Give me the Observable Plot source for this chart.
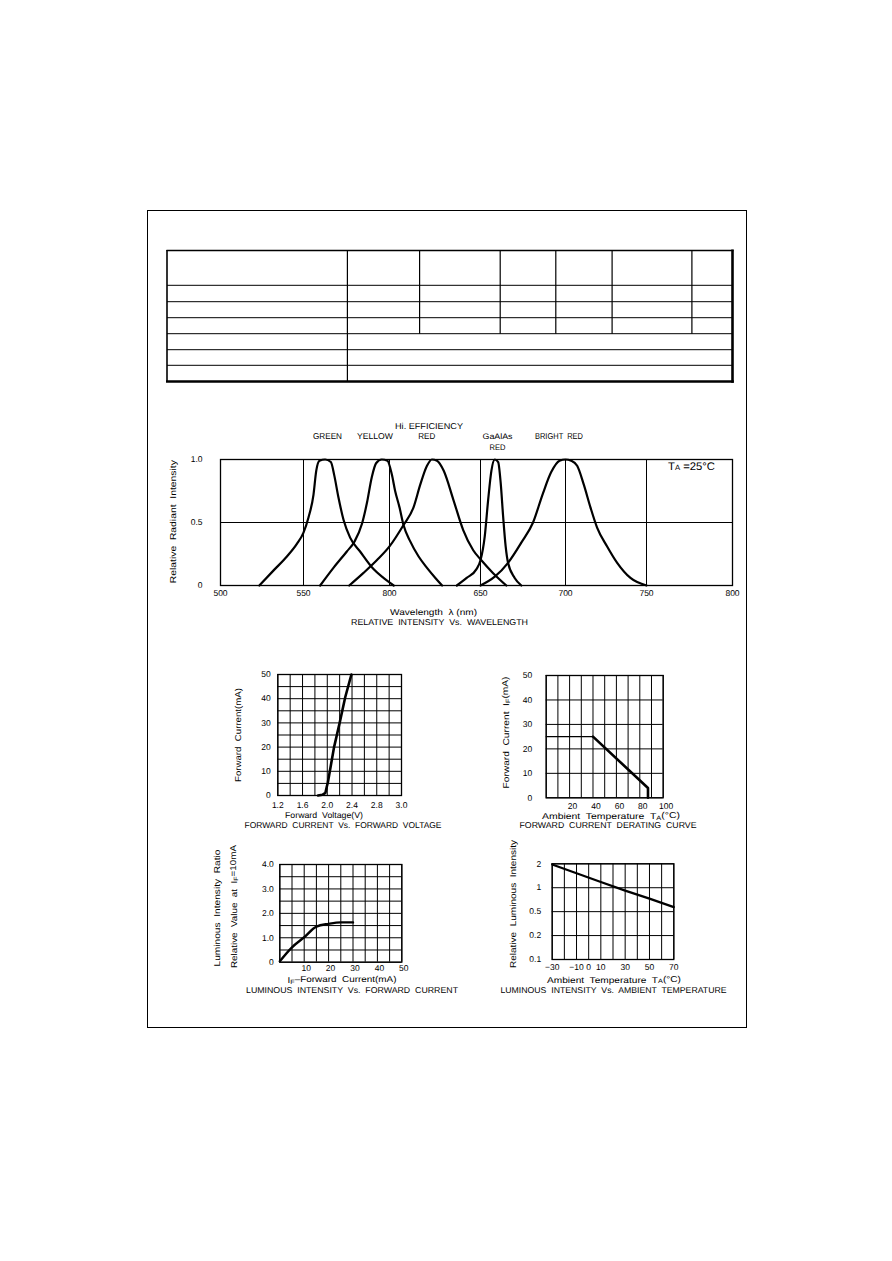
<!DOCTYPE html>
<html><head><meta charset="utf-8">
<script src="https://cdn.jsdelivr.net/npm/d3@7"></script>
<script src="https://cdn.jsdelivr.net/npm/@observablehq/plot@0.6"></script>
<style>
body{margin:0;background:#fff;}
#page{position:relative;width:892px;height:1261px;background:#fff;overflow:hidden;}
text{text-rendering:geometricPrecision;}
</style></head><body><div id="page"></div>
<script>
// ---------------- DATA ----------------
// Spectrum: relative radiant intensity vs wavelength
const specSeries = ["GREEN", "YELLOW", "HI. EFFICIENCY RED", "GaAlAs RED", "BRIGHT RED"];
const greenNm  = [523.4, 532, 540, 546, 550, 552.9, 555.8, 557.4, 559.3, 562.6, 565.9, 567.8, 570.3, 573.3, 577.1, 582.9, 590.7, 596.5, 602.3];
const greenRel = [0, 0.12, 0.23, 0.33, 0.42, 0.54, 0.72, 0.91, 0.99, 1.0, 0.98, 0.88, 0.70, 0.52, 0.38, 0.27, 0.13, 0.06, 0];
const yellowNm  = [559.7, 567.4, 575.2, 579.7, 584.0, 586.8, 589.7, 592.2, 595.5, 598.8, 601.3, 603.1, 605.5, 607.7, 611.4, 616.0, 620.6, 625.2, 628.9];
const yellowRel = [0, 0.14, 0.27, 0.35, 0.49, 0.65, 0.86, 0.97, 1.0, 0.99, 0.88, 0.75, 0.62, 0.48, 0.35, 0.23, 0.14, 0.06, 0];
const hiEffNm  = [576.6, 584.9, 592.6, 600, 607.7, 613.2, 616.9, 620.6, 623.3, 626.1, 629.8, 635.1, 640.5, 646, 650.5, 657.3, 665.2];
const hiEffRel = [0, 0.10, 0.20, 0.31, 0.48, 0.62, 0.80, 0.95, 1.0, 0.99, 0.91, 0.68, 0.44, 0.28, 0.20, 0.10, 0];
const gaalasNm  = [637, 642.4, 647.8, 650, 652.5, 654.5, 656.4, 658.4, 660.4, 661.9, 663.3, 664.8, 666.2, 670.1, 674];
const gaalasRel = [0, 0.06, 0.13, 0.20, 0.39, 0.68, 0.91, 1.0, 0.98, 0.81, 0.55, 0.31, 0.18, 0.06, 0];
const brightNm  = [650, 658.4, 666.2, 674, 680.9, 686.7, 691.6, 696.5, 700, 703.5, 707.2, 711.3, 715.4, 719.5, 725.7, 731.9, 740.1, 750];
const brightRel = [0, 0.07, 0.18, 0.34, 0.50, 0.73, 0.90, 0.99, 1.0, 0.99, 0.95, 0.80, 0.62, 0.46, 0.31, 0.18, 0.06, 0];
const specTicks = [500, 550, 600, 650, 700, 750, 800];
const specTickLabels = ["500", "550", "800", "650", "700", "750", "800"];
const specGridX = [550, 600, 650, 700, 750];
const specGridY = [0.5];
const specYTicks = [0, 0.5, 1];
const specYTickLabels = ["0", "0.5", "1.0"];

// Forward current vs forward voltage
const fvVolt = [1.85, 1.92, 1.97, 1.99, 2.01, 2.11, 2.20, 2.29, 2.39];
const fvCurr = [0, 0.3, 1.1, 3.4, 5.5, 20, 30, 40.6, 50];
const fvGridX = [1.2, 1.4, 1.6, 1.8, 2.0, 2.2, 2.4, 2.6, 2.8, 3.0, 3.2];
const fvGridY = [0, 5, 10, 15, 20, 25, 30, 35, 40, 45, 50];
const fvXTicks = [1.2, 1.6, 2.0, 2.4, 2.8, 3.2];
const fvXTickLabels = ["1.2", "1.6", "2.0", "2.4", "2.8", "3.0"];
const fvYTicks = [0, 10, 20, 30, 40, 50];
const fvYTickLabels = ["0", "10", "20", "30", "40", "50"];

// Forward current derating curve
const plateauTemp = [0, 40];
const plateauCurr = [25, 25];
const derateTemp = [40, 87, 87];
const derateCurr = [25, 4, 0];
const drGridX = [0, 10, 20, 30, 40, 50, 60, 70, 80, 90, 100];
const drGridY = [0, 10, 20, 30, 40, 50];
const drXTicks = [20, 40, 60, 80, 100];
const drXTickLabels = ["20", "40", "60", "80", "100"];
const drYTicks = [0, 10, 20, 30, 40, 50];
const drYTickLabels = ["0", "10", "20", "30", "40", "50"];

// Luminous intensity vs forward current
const liCurr = [0, 5, 10, 15, 20, 25, 30];
const liRel  = [0.04, 0.61, 1.02, 1.46, 1.57, 1.63, 1.63];
const liGridX = [0, 5, 10, 15, 20, 25, 30, 35, 40, 45, 50];
const liGridY = [0, 0.5, 1, 1.5, 2, 2.5, 3, 3.5, 4];
const liXTicks = [10, 20, 30, 40, 50];
const liXTickLabels = ["10", "20", "30", "40", "50"];
const liYTicks = [0, 1, 2, 3, 4];
const liYTickLabels = ["0", "1.0", "2.0", "3.0", "4.0"];

// Luminous intensity vs ambient temperature (equal-spaced 0.1/0.2/0.5/1/2 axis)
const ltTemp = [-30, -10, 10, 30, 50, 70];
const ltRel  = [1.96, 1.52, 1.18, 0.92, 0.73, 0.57];
const ltGridX = [-30, -20, -10, 0, 10, 20, 30, 40, 50, 60, 70];
const ltYLevels = [0.1, 0.2, 0.5, 1, 2];
const ltYTickLabels = ["0.1", "0.2", "0.5", "1", "2"];
const ltXTicks = [-30, -10, 0, 10, 30, 50, 70];
const ltXTickLabels = ["\u221230", "\u221210", "0", "10", "30", "50", "70"];

// ---------------- RENDER ----------------
const FONT = "'Liberation Sans', Arial, sans-serif";
const page = document.getElementById("page");
const baseStyle = {fontSize: "8.5px", fontFamily: FONT, background: "transparent", color: "#000", overflow: "visible"};
const lab = (ticks, labels) => d => labels[ticks.indexOf(d)];

function place(el, left, top) {
  el.style.position = "absolute";
  el.style.left = left + "px";
  el.style.top = top + "px";
  page.appendChild(el);
}

function gridChart(o) {
  return Plot.plot({
    width: o.width, height: o.height,
    marginLeft: o.ml, marginRight: o.mr, marginTop: o.mt, marginBottom: o.mb,
    style: baseStyle,
    x: o.xScale || {domain: o.xDomain},
    y: {domain: o.yDomain},
    marks: [
      Plot.ruleX(o.gridX, {stroke: "#000", strokeWidth: 1}),
      Plot.ruleY(o.gridY, {stroke: "#000", strokeWidth: 1}),
      Plot.frame({stroke: "#000", strokeWidth: 1.3}),
      ...o.lines,
      Plot.axisX({ticks: o.xTicks, tickFormat: lab(o.xTicks, o.xLabels), tickSize: 0, tickPadding: o.xPad, dx: o.xdx || 0, label: null}),
      Plot.axisY({ticks: o.yTicks, tickFormat: lab(o.yTicks, o.yLabels), tickSize: 0, tickPadding: o.yPad, label: null})
    ]
  });
}

// Spectrum chart (the printed wavelength axis is slightly non-uniform: piecewise scale)
const specRows = [];
[[greenNm, greenRel], [yellowNm, yellowRel], [hiEffNm, hiEffRel], [gaalasNm, gaalasRel], [brightNm, brightRel]]
  .forEach(([nm, rel], k) => nm.forEach((w, i) => specRows.push({series: specSeries[k], nm: w, rel: rel[i]})));

place(gridChart({
  width: 560, height: 150, ml: 40, mr: 8, mt: 10, mb: 14,
  xScale: {type: "linear", domain: specTicks, range: [40, 123, 209, 300, 385, 466, 552]},
  yDomain: [0, 1],
  gridX: specGridX, gridY: specGridY,
  lines: [Plot.line(specRows, {x: "nm", y: "rel", z: "series", curve: "monotone-x", stroke: "#000", strokeWidth: 2.2})],
  xTicks: specTicks, xLabels: specTickLabels, xPad: 4,
  yTicks: specYTicks, yLabels: specYTickLabels, yPad: 18
}), 180, 449);

// Forward current vs forward voltage
const fvRows = fvVolt.map((v, i) => ({v, i: fvCurr[i]}));
place(gridChart({
  width: 180, height: 151, ml: 47.3, mr: 9, mt: 10, mb: 20,
  xDomain: [1.2, 3.2], yDomain: [0, 50],
  gridX: fvGridX, gridY: fvGridY,
  lines: [Plot.line(fvRows, {x: "v", y: "i", stroke: "#000", strokeWidth: 2.6})],
  xTicks: fvXTicks, xLabels: fvXTickLabels, xPad: 6,
  yTicks: fvYTicks, yLabels: fvYTickLabels, yPad: 7
}), 230, 664);

// Derating curve
const plateauRows = plateauTemp.map((t, i) => ({t, c: plateauCurr[i]}));
const derateRows = derateTemp.map((t, i) => ({t, c: derateCurr[i]}));
place(gridChart({
  width: 180, height: 152.3, ml: 55.7, mr: 7.3, mt: 10, mb: 20,
  xDomain: [0, 100], yDomain: [0, 50],
  gridX: drGridX, gridY: drGridY,
  lines: [
    Plot.line(plateauRows, {x: "t", y: "c", stroke: "#000", strokeWidth: 1.2}),
    Plot.line(derateRows, {x: "t", y: "c", stroke: "#000", strokeWidth: 2.6})
  ],
  xTicks: drXTicks, xLabels: drXTickLabels, xPad: 5, xdx: 3,
  yTicks: drYTicks, yLabels: drYTickLabels, yPad: 14
}), 490, 665);

// Luminous intensity vs forward current
const liRows = liCurr.map((c, i) => ({c, r: liRel[i]}));
place(gridChart({
  width: 180, height: 130, ml: 49.3, mr: 8.7, mt: 10, mb: 22.3,
  xDomain: [0, 50], yDomain: [0, 4],
  gridX: liGridX, gridY: liGridY,
  lines: [Plot.line(liRows, {x: "c", y: "r", curve: "monotone-x", stroke: "#000", strokeWidth: 2.4})],
  xTicks: liXTicks, xLabels: liXTickLabels, xPad: 3, xdx: 2,
  yTicks: liYTicks, yLabels: liYTickLabels, yPad: 6
}), 230, 854);

// Luminous intensity vs ambient temperature
const ltPos = d3.scaleLog().domain(ltYLevels).range(ltYLevels.map((_, i) => i));
const ltRows = ltTemp.map((t, i) => ({t, r: ltRel[i]}));
const ltYPos = ltYLevels.map(v => ltPos(v));
place(gridChart({
  width: 185, height: 130, ml: 56.7, mr: 6.7, mt: 10.3, mb: 24,
  xDomain: [-30, 70], yDomain: [0, 4],
  gridX: ltGridX, gridY: ltYPos,
  lines: [Plot.line(ltRows, {x: "t", y: d => ltPos(d.r), stroke: "#000", strokeWidth: 2.2})],
  xTicks: ltXTicks, xLabels: ltXTickLabels, xPad: 4,
  yTicks: ltYPos, yLabels: ltYTickLabels, yPad: 11
}), 495, 853);

// ---------------- OVERLAY: frame, table, annotations ----------------
const ov = d3.select(page).append("svg")
  .attr("width", 892).attr("height", 1261)
  .style("position", "absolute").style("left", "0px").style("top", "0px")
  .style("pointer-events", "none");

ov.append("rect").attr("x", 147.5).attr("y", 210.5).attr("width", 599).attr("height", 817)
  .attr("fill", "none").attr("stroke", "#000").attr("stroke-width", 1);

// empty specification table
const colEdges = [167, 347.4, 419.6, 500.2, 555.8, 612.1, 691.9, 732.4];
const rowEdges = [250, 285.3, 301.7, 317.7, 333.7, 349.7, 365.3, 381.3];
const tg = ov.append("g").attr("stroke", "#000").attr("fill", "none");
rowEdges.slice(1, -1).forEach(y => tg.append("line").attr("x1", 167).attr("x2", 732.4).attr("y1", y).attr("y2", y).attr("stroke-width", 1));
colEdges.slice(1, -1).forEach((x, i) => tg.append("line").attr("x1", x).attr("x2", x)
  .attr("y1", 250).attr("y2", i === 0 ? 381.3 : 333.7).attr("stroke-width", 1.2));
tg.append("line").attr("x1", 166.5).attr("x2", 733.5).attr("y1", 250.5).attr("y2", 250.5).attr("stroke-width", 1.6);
tg.append("line").attr("x1", 167).attr("x2", 167).attr("y1", 250).attr("y2", 382).attr("stroke-width", 1.6);
tg.append("line").attr("x1", 166).attr("x2", 733.8).attr("y1", 381.5).attr("y2", 381.5).attr("stroke-width", 2.6);
tg.append("line").attr("x1", 732.5).attr("x2", 732.5).attr("y1", 249.5).attr("y2", 382.8).attr("stroke-width", 2.6);

function label(x, y, parts, {size = 8.5, len = null, rot = false, anchor = "middle"} = {}) {
  const t = ov.append("text")
    .attr("font-size", size).attr("font-family", FONT).attr("fill", "#000")
    .attr("text-anchor", anchor).attr("dominant-baseline", "central")
    .style("white-space", "pre")
    .attr("transform", rot ? `translate(${x},${y}) rotate(-90)` : `translate(${x},${y})`);
  if (len) t.attr("textLength", len).attr("lengthAdjust", "spacingAndGlyphs");
  let wasSub = false;
  (Array.isArray(parts) ? parts : [parts]).forEach(p => {
    if (typeof p === "string") {
      const s = t.append("tspan").text(p);
      if (wasSub) s.attr("dy", "-0.3em");
      wasSub = false;
    } else {
      t.append("tspan").attr("font-size", p.size || size * 0.72).attr("dy", p.sub ? "0.3em" : null).text(p.t);
      wasSub = !!p.sub;
    }
  });
}

// spectrum annotations
label(327.5, 435.7, "GREEN", {len: 29});
label(375, 435.7, "YELLOW", {len: 36});
label(429, 426, "Hi. EFFICIENCY", {len: 68});
label(426.7, 435.7, "RED", {len: 17});
label(497.5, 436, "GaAlAs", {size: 8, len: 30});
label(497.5, 446.8, "RED", {size: 8, len: 16});
label(559, 435.7, "BRIGHT  RED", {len: 48});
label(668, 466.5, ["T", {t: "A", size: 7.5}, " =25\u00B0C"], {size: 11, len: 47, anchor: "start"});
label(172.5, 521.7, "Relative  Radiant  Intensity", {rot: true, len: 123});
label(433.5, 611.7, "Wavelength  \u03BB (nm)", {len: 87});
label(439.5, 622.3, "RELATIVE  INTENSITY  Vs.  WAVELENGTH", {len: 177});

// forward voltage
label(238, 735, "Forward  Current(mA)", {rot: true, len: 94});
label(324, 815, "Forward  Voltage(V)", {len: 78});
label(343, 825, "FORWARD  CURRENT  Vs.  FORWARD  VOLTAGE", {len: 197});

// derating
label(506, 732.5, ["Forward  Current  I", {t: "F", sub: true}, "(mA)"], {rot: true, len: 112});
label(611, 815.7, ["Ambient  Temperature  T", {t: "A", sub: true}, "(\u00B0C)"], {len: 138});
label(608, 824.5, "FORWARD  CURRENT  DERATING  CURVE", {len: 177});

// luminous vs current
label(216.7, 908, "Luminous  Intensity  Ratio", {rot: true, len: 117});
label(234, 906.5, ["Relative  Value  at  I", {t: "F", sub: true}, "=10mA"], {rot: true, len: 123});
label(342, 980, ["I", {t: "F", sub: true}, "\u2013Forward  Current(mA)"], {len: 109});
label(352, 989.5, "LUMINOUS  INTENSITY  Vs.  FORWARD  CURRENT", {len: 212});

// luminous vs temperature
label(512.5, 904, "Relative  Luminous  Intensity", {rot: true, len: 128});
label(614, 979.5, ["Ambient  Temperature  T", {t: "A", sub: true}, "(\u00B0C)"], {len: 134});
label(613.5, 989.5, "LUMINOUS  INTENSITY  Vs.  AMBIENT  TEMPERATURE", {len: 226});
</script></body></html>
